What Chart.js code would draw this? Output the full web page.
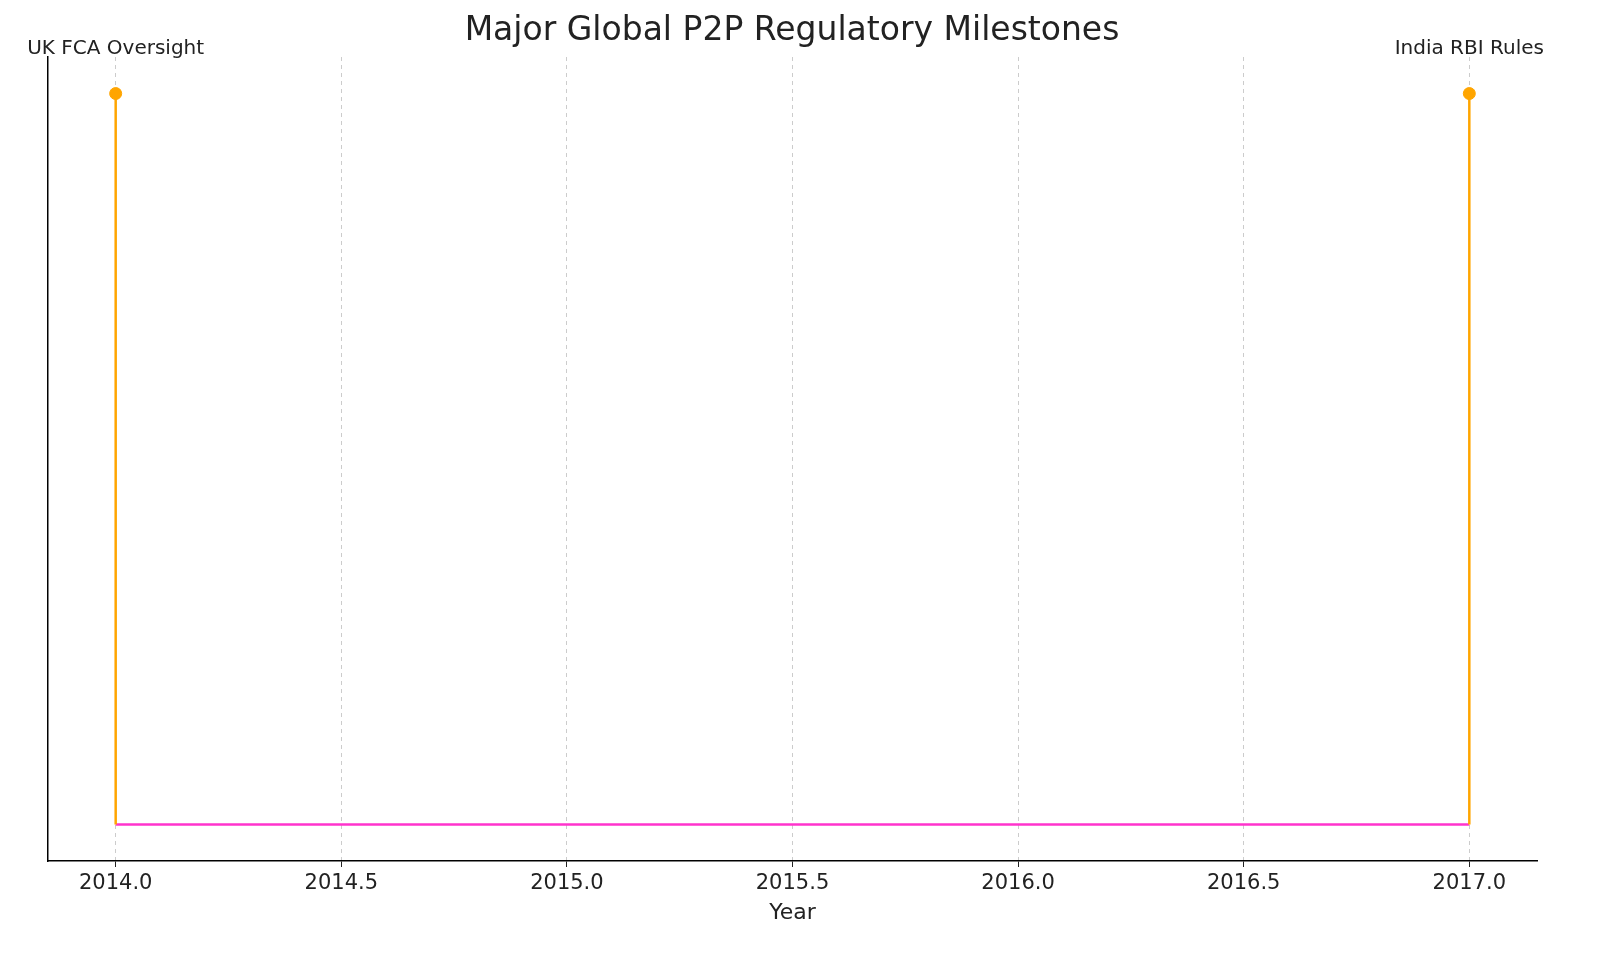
<!DOCTYPE html>
<html><head><meta charset="utf-8">
<script src="https://cdn.jsdelivr.net/npm/chart.js@4/dist/chart.umd.min.js"></script>
<style>html,body{margin:0;padding:0;background:#fff;overflow:hidden}#c{display:block}</style>
</head><body>
<div style="width:1600px;height:967px;position:relative"><canvas id="c" width="1600" height="967"></canvas></div>
<script>
const years = [2014, 2017];
const milestones = ["UK FCA Oversight", "India RBI Rules"];
const heights = [1, 1];
const tickValues = [2014.0, 2014.5, 2015.0, 2015.5, 2016.0, 2016.5, 2017.0];

const FONT = "'DejaVu Sans', sans-serif";
const datasets = [];
years.forEach((y, i) => {
  datasets.push({type:'line', data:[{x:y,y:0},{x:y,y:heights[i]}], borderColor:'#FFA500', borderWidth:2.5, pointRadius:0});
});
datasets.push({type:'line', data: years.map((y,i)=>({x:y,y:heights[i]})), showLine:false, pointRadius:6, pointBackgroundColor:'#FFA500', pointBorderColor:'#FFA500'});
datasets.push({type:'line', data:[{x:years[0],y:0},{x:years[years.length-1],y:0}], borderColor:'#FF33CC', borderWidth:2.5, pointRadius:0});

const labelPlugin = {
  id:'labels',
  afterDraw(chart){
    const ctx = chart.ctx, xs = chart.scales.x;
    ctx.save();
    ctx.fillStyle = '#222';
    ctx.textAlign = 'center'; ctx.textBaseline = 'middle';
    ctx.font = '20px ' + FONT;
    years.forEach((y,i)=> ctx.fillText(milestones[i], xs.getPixelForValue(y), 49));
    ctx.font = '33px ' + FONT;
    ctx.fillText('Major Global P2P Regulatory Milestones', 792, 31);
    ctx.restore();
  }
};

new Chart(document.getElementById('c'), {
  type:'line',
  data:{datasets},
  options:{
    responsive:false, animation:false, devicePixelRatio:1,
    layout:{padding:{top:57, right:63, left:0, bottom:37}},
    plugins:{legend:{display:false}, tooltip:{enabled:false}, title:{display:false}},
    scales:{
      x:{type:'linear', min:2013.85, max:2017.15,
        afterBuildTicks(s){ s.ticks = tickValues.map(v=>({value:v})); },
        afterFit(s){ s.height = 69; },
        ticks:{color:'#222', font:{size:21, family:FONT}, padding:4, callback:v=>Number(v).toFixed(1), maxRotation:0},
        grid:{color:'#cccccc', lineWidth:1, tickLength:6, tickColor:'#222'},
        border:{color:'#000', width:1.5, dash:[4,4], dashOffset:0},
        title:{display:true, text:'Year', color:'#222', font:{size:22, family:FONT}, padding:{top:0}}
      },
      y:{min:-0.05, max:1.05,
        afterFit(s){ s.width = 48; },
        ticks:{display:false},
        grid:{display:false},
        border:{color:'#000', width:1.5}
      }
    }
  },
  plugins:[labelPlugin]
});
</script>
</body></html>
